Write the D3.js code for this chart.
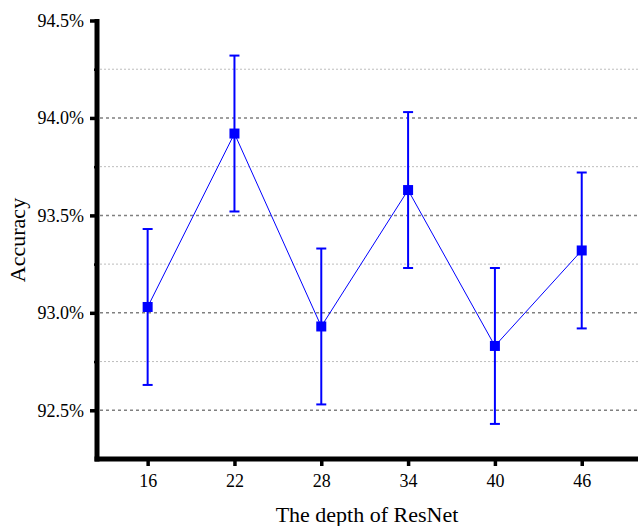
<!DOCTYPE html>
<html>
<head>
<meta charset="utf-8">
<script src="https://cdn.jsdelivr.net/npm/d3@7"></script>
<style>
  body { margin: 0; background: #fff; }
  svg { display: block; font-family: "Liberation Serif", "Times New Roman", serif; }
</style>
</head>
<body>
<svg width="638" height="526"></svg>
<script>
const depths = [16, 22, 28, 34, 40, 46];
const accuracy = [93.03, 93.92, 92.93, 93.63, 92.83, 93.32];
const errors = [0.40, 0.40, 0.40, 0.40, 0.40, 0.40];
const yTicks = [92.5, 93.0, 93.5, 94.0, 94.5];
const yMinorTicks = [92.75, 93.25, 93.75, 94.25];

const points = depths.map((d, i) => ({depth: d, acc: accuracy[i], err: errors[i]}));

const FONT = '"Liberation Serif", "Times New Roman", serif';
const svg = d3.select('svg');

const x = d3.scaleLinear()
    .domain([12.5, 50])
    .range([97, 639.6]);

const y = d3.scaleLinear()
    .domain([92.25, 94.5])
    .range([459, 20.5]);

// grid lines
svg.append('g')
    .selectAll('line')
    .data(yMinorTicks)
    .enter()
    .append('line')
    .attr('x1', 100).attr('x2', 638)
    .attr('y1', d => y(d)).attr('y2', d => y(d))
    .attr('stroke', '#bdbdbd')
    .attr('stroke-width', 1)
    .attr('stroke-dasharray', '2,2');

svg.append('g')
    .selectAll('line')
    .data(yTicks.filter(d => d < 94.5))
    .enter()
    .append('line')
    .attr('x1', 100).attr('x2', 638)
    .attr('y1', d => y(d)).attr('y2', d => y(d))
    .attr('stroke', '#808080')
    .attr('stroke-width', 1.5)
    .attr('stroke-dasharray', '3,3');

// connecting line
svg.append('path')
    .datum(points)
    .attr('fill', 'none')
    .attr('stroke', '#0000ff')
    .attr('stroke-width', 1)
    .attr('d', d3.line().x(d => x(d.depth)).y(d => y(d.acc)));

// error bars
const eb = svg.append('g')
    .selectAll('g')
    .data(points)
    .enter()
    .append('g')
    .attr('stroke', '#0000ff')
    .attr('stroke-width', 2);

eb.append('line')
    .attr('x1', d => x(d.depth)).attr('x2', d => x(d.depth))
    .attr('y1', d => y(d.acc - d.err)).attr('y2', d => y(d.acc + d.err));
eb.append('line')
    .attr('x1', d => x(d.depth) - 5).attr('x2', d => x(d.depth) + 5)
    .attr('y1', d => y(d.acc + d.err)).attr('y2', d => y(d.acc + d.err));
eb.append('line')
    .attr('x1', d => x(d.depth) - 5).attr('x2', d => x(d.depth) + 5)
    .attr('y1', d => y(d.acc - d.err)).attr('y2', d => y(d.acc - d.err));

// markers
svg.append('g')
    .selectAll('rect')
    .data(points)
    .enter()
    .append('rect')
    .attr('x', d => x(d.depth) - 5)
    .attr('y', d => y(d.acc) - 5)
    .attr('width', 10)
    .attr('height', 10)
    .attr('fill', '#0000ff');

// y axis
const yAxis = svg.append('g')
    .attr('transform', 'translate(97,0)')
    .call(d3.axisLeft(y).tickValues(yTicks).tickSize(7).tickPadding(6)
        .tickFormat(d => d.toFixed(1) + '%'))
    .attr('font-family', FONT)
    .attr('font-size', 18);
yAxis.select('.domain').remove();
yAxis.selectAll('.tick line').attr('stroke-width', 3.5).attr('stroke', '#000');
yAxis.selectAll('text').attr('fill', '#000');

svg.append('g')
    .attr('transform', 'translate(97,0)')
    .call(d3.axisLeft(y).tickValues(yMinorTicks).tickSize(3).tickFormat(''))
    .call(g => g.select('.domain').remove())
    .selectAll('.tick line').attr('stroke-width', 2.5).attr('stroke', '#000');

svg.append('line')
    .attr('x1', 97).attr('x2', 97)
    .attr('y1', y(94.5) - 1.5).attr('y2', y(92.25) + 2.5)
    .attr('stroke', '#000').attr('stroke-width', 5);

// x axis
const xAxis = svg.append('g')
    .attr('transform', 'translate(0,' + y(92.25) + ')')
    .call(d3.axisBottom(x).tickValues(depths).tickSize(7).tickPadding(8))
    .attr('font-family', FONT)
    .attr('font-size', 18);
xAxis.select('.domain').remove();
xAxis.selectAll('.tick line').attr('stroke-width', 3.5).attr('stroke', '#000');
xAxis.selectAll('text').attr('fill', '#000');

svg.append('line')
    .attr('x1', 94.5).attr('x2', 638)
    .attr('y1', y(92.25)).attr('y2', y(92.25))
    .attr('stroke', '#000').attr('stroke-width', 5);

// titles
svg.append('text')
    .attr('x', 367).attr('y', 522)
    .attr('text-anchor', 'middle')
    .attr('font-size', 22)
    .text('The depth of ResNet');

svg.append('text')
    .attr('transform', 'translate(25,240) rotate(-90)')
    .attr('text-anchor', 'middle')
    .attr('font-size', 22)
    .text('Accuracy');
</script>
</body>
</html>
